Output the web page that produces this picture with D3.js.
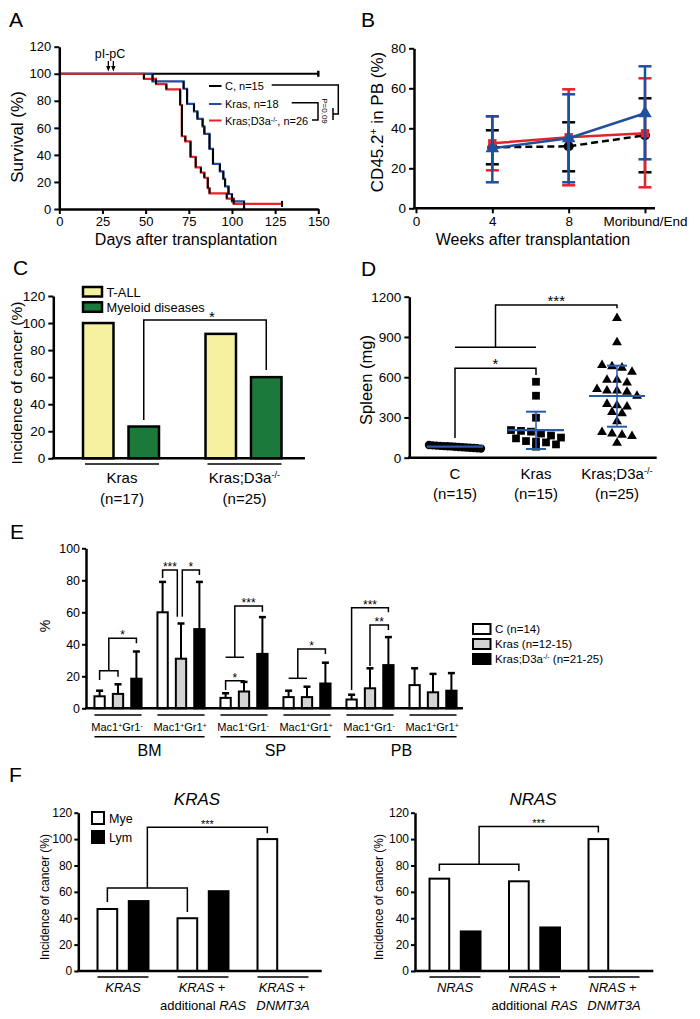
<!DOCTYPE html>
<html><head><meta charset="utf-8">
<script src="https://cdn.jsdelivr.net/npm/d3@7"></script>
<style>html,body{margin:0;padding:0;background:#fff}svg{display:block}</style>
</head><body>
<svg id="fig" width="700" height="1019"></svg>
<script>
// ================= DATA =================
// Panel A – survival
const survDayTicks = [0, 25, 50, 75, 100, 125, 150];
const survPctTicks = [0, 20, 40, 60, 80, 100, 120];
const survC = [[0,100],[150,100]];
const survKras = [[0,100],[54,94.4],[72,88.9],[74,77.8],[78,72.2],[80,66.7],[83,61.1],[84,55.6],[87,44.4],[89,33.3],[93,27.8],[95,22.2],[96,16.7],[98,11.1],[100,5.6],[107,0]];
const survKrasD3a = [[0,100],[49,96.2],[56,92.3],[62,88.5],[70,76.9],[71,53.8],[73,50],[76,38.5],[79,30.8],[82,26.9],[84,23.1],[86,15.4],[87,11.5],[97,7.7],[101,3.8],[129,3.8]];
const survLegend = ["C, n=15", "Kras, n=18", "Kras;D3a^{-/-}, n=26"];
const pIpCDays = [28.4, 31.3];

// Panel B – CD45.2+ in PB
const weekCats = ["0", "4", "8", "Moribund/End"];
const bPoints = ["4", "8", "Moribund/End"];
const bTicks = [0, 20, 40, 60, 80];
const bC = [30.5, 31, 36.5], bC_hi = [39, 43, 55], bC_lo = [22, 18.5, 18];
const bKrasD3a = [32.5, 35.5, 37.5], bKrasD3a_hi = [46, 59.5, 65], bKrasD3a_lo = [19, 11.5, 10.5];
const bKras = [30, 35, 47.5], bKras_hi = [46, 57, 71], bKras_lo = [13, 13, 24.5];

// Panel C – incidence of cancer
const cGroups = ["Kras", "Kras;D3a^{-/-}"];
const cGroupN = ["(n=17)", "(n=25)"];
const cDiseases = ["T-ALL", "Myeloid diseases"];
const cTALL = [100, 92];
const cMyeloid = [23.5, 60];
const cTicks = [0, 20, 40, 60, 80, 100, 120];

// Panel D – spleen weight
const dGroups = ["C", "Kras", "Kras;D3a^{-/-}"];
const dGroupN = ["(n=15)", "(n=15)", "(n=25)"];
const dTicks = [0, 300, 600, 900, 1200];
const spleenC = [95, 92, 90, 88, 86, 85, 84, 82, 80, 78, 76, 74, 72, 70, 68];
const spleenKras = [566, 462, 298, 206, 200, 194, 180, 165, 150, 144, 124, 120, 114, 99, 82];
const spleenKrasD3a = [1040, 860, 690, 680, 670, 640, 580, 580, 560, 510, 500, 500, 490, 460, 400, 390, 380, 340, 330, 270, 190, 180, 170, 160, 110];
const spleenMean = [82, 206, 460];
const spleenSDhi = [90, 343, 686];
const spleenSDlo = [74, 65, 231];

// Panel E – myeloid populations
const eTissues = ["BM", "SP", "PB"];
const ePops = ["Mac1^{+}Gr1^{-}", "Mac1^{+}Gr1^{+}"];
const eSeries = ["C (n=14)", "Kras (n=12-15)", "Kras;D3a^{-/-} (n=21-25)"];
const eTicks = [0, 20, 40, 60, 80, 100];
const eC = [7.5, 60, 6.5, 7, 5.5, 14.5], eC_err = [11, 79, 9.4, 11, 8.5, 25];
const eKras = [9, 31, 10.5, 7, 12.5, 10], eKras_err = [15, 53, 16.5, 13.5, 25, 21.5];
const eKrasD3a = [18.5, 49.5, 34, 15.5, 27, 11], eKrasD3a_err = [35.5, 79, 57, 28.5, 44.5, 22];

// Panel F – human data
const fTicks = [0, 20, 40, 60, 80, 100, 120];
const fTypes = ["Mye", "Lym"];
const fKrasLabels = [["*KRAS*"], ["*KRAS* +", "additional *RAS*"], ["*KRAS* +", "*DNMT3A*"]];
const fNrasLabels = [["*NRAS*"], ["*NRAS* +", "additional *RAS*"], ["*NRAS* +", "*DNMT3A*"]];
const fKrasMye = [47, 40, 100], fKrasLym = [53, 60.5, 0];
const fNrasMye = [70, 68, 100], fNrasLym = [30, 33, 0];

// ================= DRAWING =================
const FONT = "'Liberation Sans', Arial, Helvetica, sans-serif";
const BLUE = "#1f4f9f", RED = "#e5232a", YEL = "#f5f1a1", GRN = "#1b7a3b", DBLUE = "#2a5aa8", GREY = "#d3d3d3";
const svg = d3.select("#fig").attr("font-family", FONT);
svg.append("rect").attr("width", 700).attr("height", 1019).attr("fill", "#fff");

function rich(t, str) {
  str.split(/(\^\{[^}]*\}|\*[^*]*\*)/).filter(s => s.length).forEach(p => {
    if (p.startsWith("^{")) t.append("tspan").attr("baseline-shift", "super").attr("font-size", "62%").text(p.slice(2, -1));
    else if (p.startsWith("*")) t.append("tspan").attr("font-style", "italic").text(p.slice(1, -1));
    else t.append("tspan").text(p);
  });
  return t;
}
function txt(g, x, y, str, fs, anchor, rot) {
  const t = g.append("text").attr("font-size", fs).attr("text-anchor", anchor || "middle").attr("fill", "#000");
  if (rot) t.attr("transform", `translate(${x},${y}) rotate(${rot})`);
  else t.attr("x", x).attr("y", y);
  return rich(t, str);
}
function styleAxis(g, fs, sw) {
  g.attr("font-family", FONT).attr("font-size", fs);
  g.select(".domain").attr("stroke", "#000").attr("stroke-width", sw || 2.5);
  g.selectAll(".tick line").attr("stroke", "#000").attr("stroke-width", 2);
  g.selectAll(".tick text").attr("fill", "#000");
}
function hLine(g, x1, x2, y, sw, col) {
  g.append("line").attr("x1", x1).attr("x2", x2).attr("y1", y).attr("y2", y).attr("stroke", col || "#000").attr("stroke-width", sw);
}
function vLine(g, x, y1, y2, sw, col) {
  g.append("line").attr("x1", x).attr("x2", x).attr("y1", y1).attr("y2", y2).attr("stroke", col || "#000").attr("stroke-width", sw);
}
function bracket(g, xl, xr, yTop, yl, yr, label, fs, off, sw, dx) {
  g.append("path").attr("d", `M${xl},${yl}V${yTop}H${xr}V${yr}`).attr("fill", "none").attr("stroke", "#000").attr("stroke-width", sw || 1.5);
  if (label) g.append("text").attr("x", (xl + xr) / 2 + (dx || 0)).attr("y", yTop - off + 0.58 * fs).attr("text-anchor", "middle").attr("font-size", fs).text(label);
}

// panel letters
[["A", 9, 27], ["B", 361, 27], ["C", 13, 275], ["D", 361, 276], ["E", 10, 539], ["F", 9, 782]].forEach(([l, x, y]) =>
  svg.append("text").attr("x", x).attr("y", y).attr("font-size", 21).text(l));

// ---------- Panel A ----------
{
  const g = svg.append("g");
  const x = d3.scaleLinear().domain([0, 150]).range([59.3, 318.3]);
  const y = d3.scaleLinear().domain([0, 120]).range([209, 46.7]);
  const line = d3.line().x(d => x(d[0])).y(d => y(d[1])).curve(d3.curveStepAfter);
  [[survC, "#000"], [survKras, BLUE], [survKrasD3a, RED]].forEach(([data, col]) =>
    g.append("path").attr("d", line(data)).attr("fill", "none").attr("stroke", col).attr("stroke-width", 2.2));
  [survKras, survKrasD3a].forEach(data => {
    for (let i = 1; i < data.length; i++)
      if (data[i][1] !== data[i - 1][1]) vLine(g, x(data[i][0]), y(data[i - 1][1]), y(data[i][1]), 2);
  });
  vLine(g, x(150), y(100) - 3, y(100) + 3, 2.5);
  vLine(g, x(129), y(3.8) - 3, y(3.8) + 3, 2);
  g.append("g").attr("transform", `translate(0,${y(0)})`)
    .call(d3.axisBottom(x).tickValues(survDayTicks).tickSize(5).tickSizeOuter(0).tickPadding(3)).call(styleAxis, 13);
  g.append("g").attr("transform", `translate(${x(0)},0)`)
    .call(d3.axisLeft(y).tickValues(survPctTicks).tickSize(5).tickSizeOuter(0).tickPadding(3)).call(styleAxis, 13);
  txt(g, 186, 244.5, "Days after transplantation", 16);
  txt(g, 23, 137, "Survival (%)", 17, "middle", -90);
  // pI-pC
  txt(g, 110, 58, "pI-pC", 12.5);
  pIpCDays.forEach(d => {
    vLine(g, x(d), 61, 67, 1.3);
    g.append("path").attr("d", `M${x(d) - 2.2},${66}L${x(d) + 2.2},${66}L${x(d)},${71.5}Z`).attr("fill", "#000");
  });
  // legend
  const legCols = ["#000", BLUE, RED], legY = [86, 104, 120.5];
  survLegend.forEach((s, i) => {
    hLine(g, 209, 221.5, legY[i], 2, legCols[i]);
    txt(g, 225, legY[i] + 4, s, 11, "start");
  });
  // brackets
  g.append("path").attr("d", "M271.7,85H338.3V114H333").attr("fill", "none").attr("stroke", "#000").attr("stroke-width", 1.5);
  vLine(g, 333, 108, 120, 1.5);
  g.append("path").attr("d", "M291.7,102.7H318V120H312").attr("fill", "none").attr("stroke", "#000").attr("stroke-width", 1.5);
  txt(g, 321.5, 111, "P=0.09", 8, "middle", 90);
  txt(g, 341, 98, "***", 10, "middle", 90);
}

// ---------- Panel B ----------
{
  const g = svg.append("g");
  const x = d3.scalePoint().domain(weekCats).range([416, 645]);
  const y = d3.scaleLinear().domain([0, 80]).range([208.3, 48.3]);
  const ax = g.append("g").attr("transform", `translate(0,${y(0)})`)
    .call(d3.axisBottom(x).tickSize(5).tickSizeOuter(0).tickPadding(3)).call(styleAxis, 13.5);
  ax.select(".domain").attr("d", "M413,0H655");
  g.append("g").attr("transform", "translate(414,0)")
    .call(d3.axisLeft(y).tickValues(bTicks).tickSize(5).tickSizeOuter(0).tickPadding(3)).call(styleAxis, 13.5);
  const series = [
    { m: bC, hi: bC_hi, lo: bC_lo, col: "#000", dash: "7,4", sym: d3.symbolCircle, size: 80 },
    { m: bKrasD3a, hi: bKrasD3a_hi, lo: bKrasD3a_lo, col: RED, dash: null, sym: d3.symbolSquare, size: 70 },
    { m: bKras, hi: bKras_hi, lo: bKras_lo, col: BLUE, dash: null, sym: d3.symbolTriangle, size: 80 }
  ];
  series.forEach(s => {
    bPoints.forEach((p, i) => {
      vLine(g, x(p), y(s.hi[i]), y(s.lo[i]), 2.5, s.col);
      hLine(g, x(p) - 6.5, x(p) + 6.5, y(s.hi[i]), 2.5, s.col);
      hLine(g, x(p) - 6.5, x(p) + 6.5, y(s.lo[i]), 2.5, s.col);
    });
    const path = g.append("path").attr("d", d3.line().x((d, i) => x(bPoints[i])).y(d => y(d))(s.m))
      .attr("fill", "none").attr("stroke", s.col).attr("stroke-width", 2.5);
    if (s.dash) path.attr("stroke-dasharray", s.dash);
    s.m.forEach((v, i) => g.append("path").attr("d", d3.symbol(s.sym, s.size)())
      .attr("transform", `translate(${x(bPoints[i])},${y(v)})`).attr("fill", s.col));
  });
  txt(g, 533, 244.5, "Weeks after transplantation", 16);
  txt(g, 383, 122, "CD45.2^{+} in PB (%)", 17, "middle", -90);
}

// ---------- Panel C ----------
{
  const g = svg.append("g");
  const x = d3.scalePoint().domain(cGroups).range([121, 243.5]);
  const xs = d3.scaleBand().domain(cDiseases).range([-38, 38]).paddingInner(0.33);
  const y = d3.scaleLinear().domain([0, 120]).range([458.3, 296]);
  const cols = [YEL, GRN];
  [cTALL, cMyeloid].forEach((vals, k) => vals.forEach((v, i) => {
    g.append("rect").attr("x", x(cGroups[i]) + xs(cDiseases[k])).attr("y", y(v))
      .attr("width", xs.bandwidth()).attr("height", y(0) - y(v))
      .attr("fill", cols[k]).attr("stroke", "#000").attr("stroke-width", 2.5);
  }));
  g.append("g").attr("transform", "translate(53.3,0)")
    .call(d3.axisLeft(y).tickValues(cTicks).tickSize(5).tickSizeOuter(0).tickPadding(3)).call(styleAxis, 13.5);
  hLine(g, 52, 305, y(0), 2.5);
  cGroups.forEach((c, i) => {
    const x0 = x(c) + xs(cDiseases[0]), x1 = x(c) + xs(cDiseases[1]) + xs.bandwidth();
    hLine(g, x0 + 2, x1, 464, 1.5);
    txt(g, x(c) + 1, 482.5, c, 15);
    txt(g, x(c) + 1, 503.5, cGroupN[i], 15);
  });
  const mid = xs(cDiseases[1]) + xs.bandwidth() / 2;
  bracket(g, x(cGroups[0]) + mid, x(cGroups[1]) + mid, y(102.3), y(28.3), y(65.3), "*", 15, 7, 1.5, 7);
  // legend
  cDiseases.forEach((d, i) => {
    g.append("rect").attr("x", 83).attr("y", 287 + i * 15.3).attr("width", 19).attr("height", 9.5)
      .attr("fill", cols[i]).attr("stroke", "#000").attr("stroke-width", 2.5);
    txt(g, 106.5, 296.5 + i * 15.3, d, 12.8, "start");
  });
  txt(g, 22, 383, "Incidence of cancer (%)", 15.5, "middle", -90);
}

// ---------- Panel D ----------
{
  const g = svg.append("g");
  const x = d3.scalePoint().domain(dGroups).range([455, 617]);
  const y = d3.scaleLinear().domain([0, 1200]).range([457.7, 296.7]);
  g.append("g").attr("transform", "translate(409.3,0)")
    .call(d3.axisLeft(y).tickValues(dTicks).tickFormat(d3.format("d")).tickSize(5).tickSizeOuter(0).tickPadding(3)).call(styleAxis, 13.5);
  hLine(g, 408, 656.7, y(0), 2.5);
  function swarm(values, cx, spacing, maxW) {
    const pts = values.map(v => ({ v, py: y(v) })).sort((a, b) => a.py - b.py);
    const rows = [];
    pts.forEach(p => { const r = rows[rows.length - 1]; if (r && p.py - r[0].py < 8) r.push(p); else rows.push([p]); });
    rows.forEach(r => { const n = r.length; const sp = n > 1 ? Math.min(spacing, maxW / (n - 1)) : 0; r.forEach((p, i) => p.px = cx + (i - (n - 1) / 2) * sp); });
    return pts;
  }
  // mean lines for C drawn under points, others above
  const sets = [[spleenC, d3.symbolCircle, 55, 4], [spleenKras, d3.symbolSquare, 60, 10], [spleenKrasD3a, d3.symbolTriangle, 42, 10]];
  sets.forEach(([vals, sym, size, sp], i) => {
    const cx = x(dGroups[i]);
    swarm(vals, cx, sp, 52).forEach(p => g.append("path").attr("d", d3.symbol(sym, size)())
      .attr("transform", `translate(${p.px},${p.py})`).attr("fill", "#000"));
  });
  dGroups.forEach((c, i) => {
    const cx = x(c);
    if (y(spleenSDlo[i]) - y(spleenSDhi[i]) > 6) {
      vLine(g, cx, y(spleenSDhi[i]), y(spleenSDlo[i]), 1.5, DBLUE);
      hLine(g, cx - 10, cx + 10, y(spleenSDhi[i]), 2, DBLUE);
      hLine(g, cx - 10, cx + 10, y(spleenSDlo[i]), 2, DBLUE);
    }
    hLine(g, cx - 28, cx + 28, y(spleenMean[i]), 2.2, DBLUE);
    txt(g, cx, 479, c, 15);
    txt(g, cx, 498.5, dGroupN[i], 15);
  });
  bracket(g, x(dGroups[0]), x(dGroups[1]), y(666), y(147), y(616), "*", 15, 8, 1.5);
  hLine(g, x(dGroups[0]), x(dGroups[1]), y(823), 1.5);
  const xm = (x(dGroups[0]) + x(dGroups[1])) / 2;
  bracket(g, xm, x(dGroups[2]), y(1138), y(823), y(1114), "***", 15, 8, 1.5);
  txt(g, 372, 380, "Spleen (mg)", 16.5, "middle", -90);
}

// ---------- Panel E ----------
{
  const g = svg.append("g");
  const keys = [];
  eTissues.forEach(t => ePops.forEach(p => keys.push(t + "|" + p)));
  const x = d3.scaleBand().domain(keys).range([86.5, 464.5]);
  const cx = k => x(k) + x.bandwidth() / 2;
  const xs = d3.scaleLinear().domain([0, 2]).range([-18.4, 18.4]);
  const bw = 10.3;
  const y = d3.scaleLinear().domain([0, 100]).range([708.3, 548.3]);
  const fills = ["#fff", GREY, "#000"];
  const vals = [eC, eKras, eKrasD3a], errs = [eC_err, eKras_err, eKrasD3a_err];
  keys.forEach((k, gi) => {
    vals.forEach((arr, s) => {
      const xc = cx(k) + xs(s);
      vLine(g, xc, y(arr[gi]), y(errs[s][gi]), 2);
      hLine(g, xc - 3.5, xc + 3.5, y(errs[s][gi]), 2.5);
      g.append("rect").attr("x", xc - bw / 2).attr("y", y(arr[gi])).attr("width", bw).attr("height", y(0) - y(arr[gi]))
        .attr("fill", fills[s]).attr("stroke", "#000").attr("stroke-width", 2);
    });
  });
  g.append("g").attr("transform", "translate(86,0)")
    .call(d3.axisLeft(y).tickValues(eTicks).tickSize(4).tickSizeOuter(0).tickPadding(2)).call(styleAxis, 12.4, 2.5);
  hLine(g, 85, 463, y(0), 2.5);
  // group labels
  keys.forEach((k, gi) => {
    const c = cx(k);
    hLine(g, c + xs(0) - bw / 2, c + xs(2) + bw / 2, 715, 1.5);
    txt(g, c - 1, 730.5, ePops[gi % 2], 11);
  });
  eTissues.forEach((t, ti) => {
    const a = cx(keys[ti * 2]) + xs(0) - bw / 2, b = cx(keys[ti * 2 + 1]) + xs(2) + bw / 2;
    hLine(g, a, b, 736.7, 1.5);
    txt(g, (a + b) / 2, 756, t, 16);
  });
  // brackets: group, left/right series index, y values
  const eBr = [
    { g: 0, a: 0, b: 1, y1: 17.7, top: 23.5, y2: 19.75, label: "" },
    { g: 0, a: 0.5, b: 2, y1: 23.5, top: 43.75, y2: 40.6, label: "*" },
    { g: 1, a: 0, b: 0.8, y1: 81.4, top: 86.4, y2: 57.2, label: "***" },
    { g: 1, a: 1.07, b: 2, y1: 57.2, top: 86.4, y2: 83.3, label: "*" },
    { g: 2, a: 0, b: 1, y1: 11.4, top: 17.25, y2: 13.5, label: "*" },
    { g: 2, a: 0.5, b: 2, y1: 31.9, top: 63.9, y2: 60.4, label: "***", bar: [0, 1] },
    { g: 3, a: 0.5, b: 2, y1: 18.75, top: 37, y2: 33.9, label: "*", bar: [0, 1] },
    { g: 4, a: 0, b: 2, y1: 11.4, top: 62.9, y2: 60, label: "***" },
    { g: 4, a: 1, b: 2, y1: 26.4, top: 52, y2: 49, label: "**" }
  ];
  eBr.forEach(br => {
    const c = cx(keys[br.g]);
    if (br.bar) hLine(g, c + xs(br.bar[0]), c + xs(br.bar[1]), y(br.y1), 1.5);
    bracket(g, c + xs(br.a), c + xs(br.b), y(br.top), y(br.y1), y(br.y2), br.label, 12, 6, 1.5);
  });
  // legend
  eSeries.forEach((s, i) => {
    g.append("rect").attr("x", 473).attr("y", 624 + i * 15).attr("width", 17.5).attr("height", 10)
      .attr("fill", fills[i]).attr("stroke", "#000").attr("stroke-width", 2);
    txt(g, 495, 633 + i * 15, s, 11.5, "start");
  });
  txt(g, 50, 626, "%", 14, "middle", -90);
}

// ---------- Panel F ----------
function panelF(gx0, gx1, yAxisX, xEnd, title, titleX, labels, mye, lym, brs, legend, ylabX) {
  const g = svg.append("g");
  const cats = labels.map((l, i) => "g" + i);
  const x = d3.scalePoint().domain(cats).range([gx0, gx1]);
  const xs = d3.scaleBand().domain(fTypes).range([-25.5, 25.5]).paddingInner(0.37);
  const y = d3.scaleLinear().domain([0, 120]).range([971, 812.7]);
  [mye, lym].forEach((arr, k) => arr.forEach((v, i) => {
    if (v <= 0) return;
    g.append("rect").attr("x", x(cats[i]) + xs(fTypes[k])).attr("y", y(v)).attr("width", xs.bandwidth()).attr("height", y(0) - y(v))
      .attr("fill", k ? "#000" : "#fff").attr("stroke", "#000").attr("stroke-width", 2);
  }));
  g.append("g").attr("transform", `translate(${yAxisX},0)`)
    .call(d3.axisLeft(y).tickValues(fTicks).tickSize(4).tickSizeOuter(0).tickPadding(2)).call(styleAxis, 12, 2.5);
  hLine(g, yAxisX - 1, xEnd, y(0), 2.5);
  const mc = i => x(cats[i]) + xs(fTypes[0]) + xs.bandwidth() / 2;
  labels.forEach((lines, i) => {
    const a = x(cats[i]) + xs(fTypes[0]), b = x(cats[i]) + xs(fTypes[1]) + xs.bandwidth();
    hLine(g, a, b, 977, 1.5);
    lines.forEach((l, j) => txt(g, x(cats[i]) + (j === 0 && lines.length > 1 ? -1 : 0), 992 + j * 18, l, 13));
  });
  brs.forEach(br => {
    const xl = d3.mean(br.l, mc), xr = d3.mean(br.r, mc);
    bracket(g, xl, xr, y(br.top), y(br.y1), y(br.y2), br.label, 11, 5.5, 1.5);
  });
  txt(g, titleX, 805, "*" + title + "*", 17);
  txt(g, ylabX, 897, "Incidence of cancer (%)", 12, "middle", -90);
  if (legend) {
    fTypes.forEach((t, i) => {
      g.append("rect").attr("x", 92).attr("y", 812 + i * 19).attr("width", 12).attr("height", 12)
        .attr("fill", i ? "#000" : "#fff").attr("stroke", "#000").attr("stroke-width", 2);
      txt(g, 109, 823 + i * 19, t, 12.5, "start");
    });
  }
}
panelF(123, 283, 78.3, 321.7, "KRAS", 197, fKrasLabels, fKrasMye, fKrasLym, [
  { l: [0], r: [1], y1: 52.4, top: 63, y2: 44.8, label: "" },
  { l: [0, 1], r: [2], y1: 63, top: 108.9, y2: 104.4, label: "***" }
], true, 49);
panelF(455, 614, 415, 653.3, "NRAS", 533, fNrasLabels, fNrasMye, fNrasLym, [
  { l: [0], r: [1], y1: 75.9, top: 81, y2: 75.9, label: "" },
  { l: [0, 1], r: [2], y1: 81, top: 109.6, y2: 105, label: "***" }
], false, 382.5);
</script>
</body></html>
